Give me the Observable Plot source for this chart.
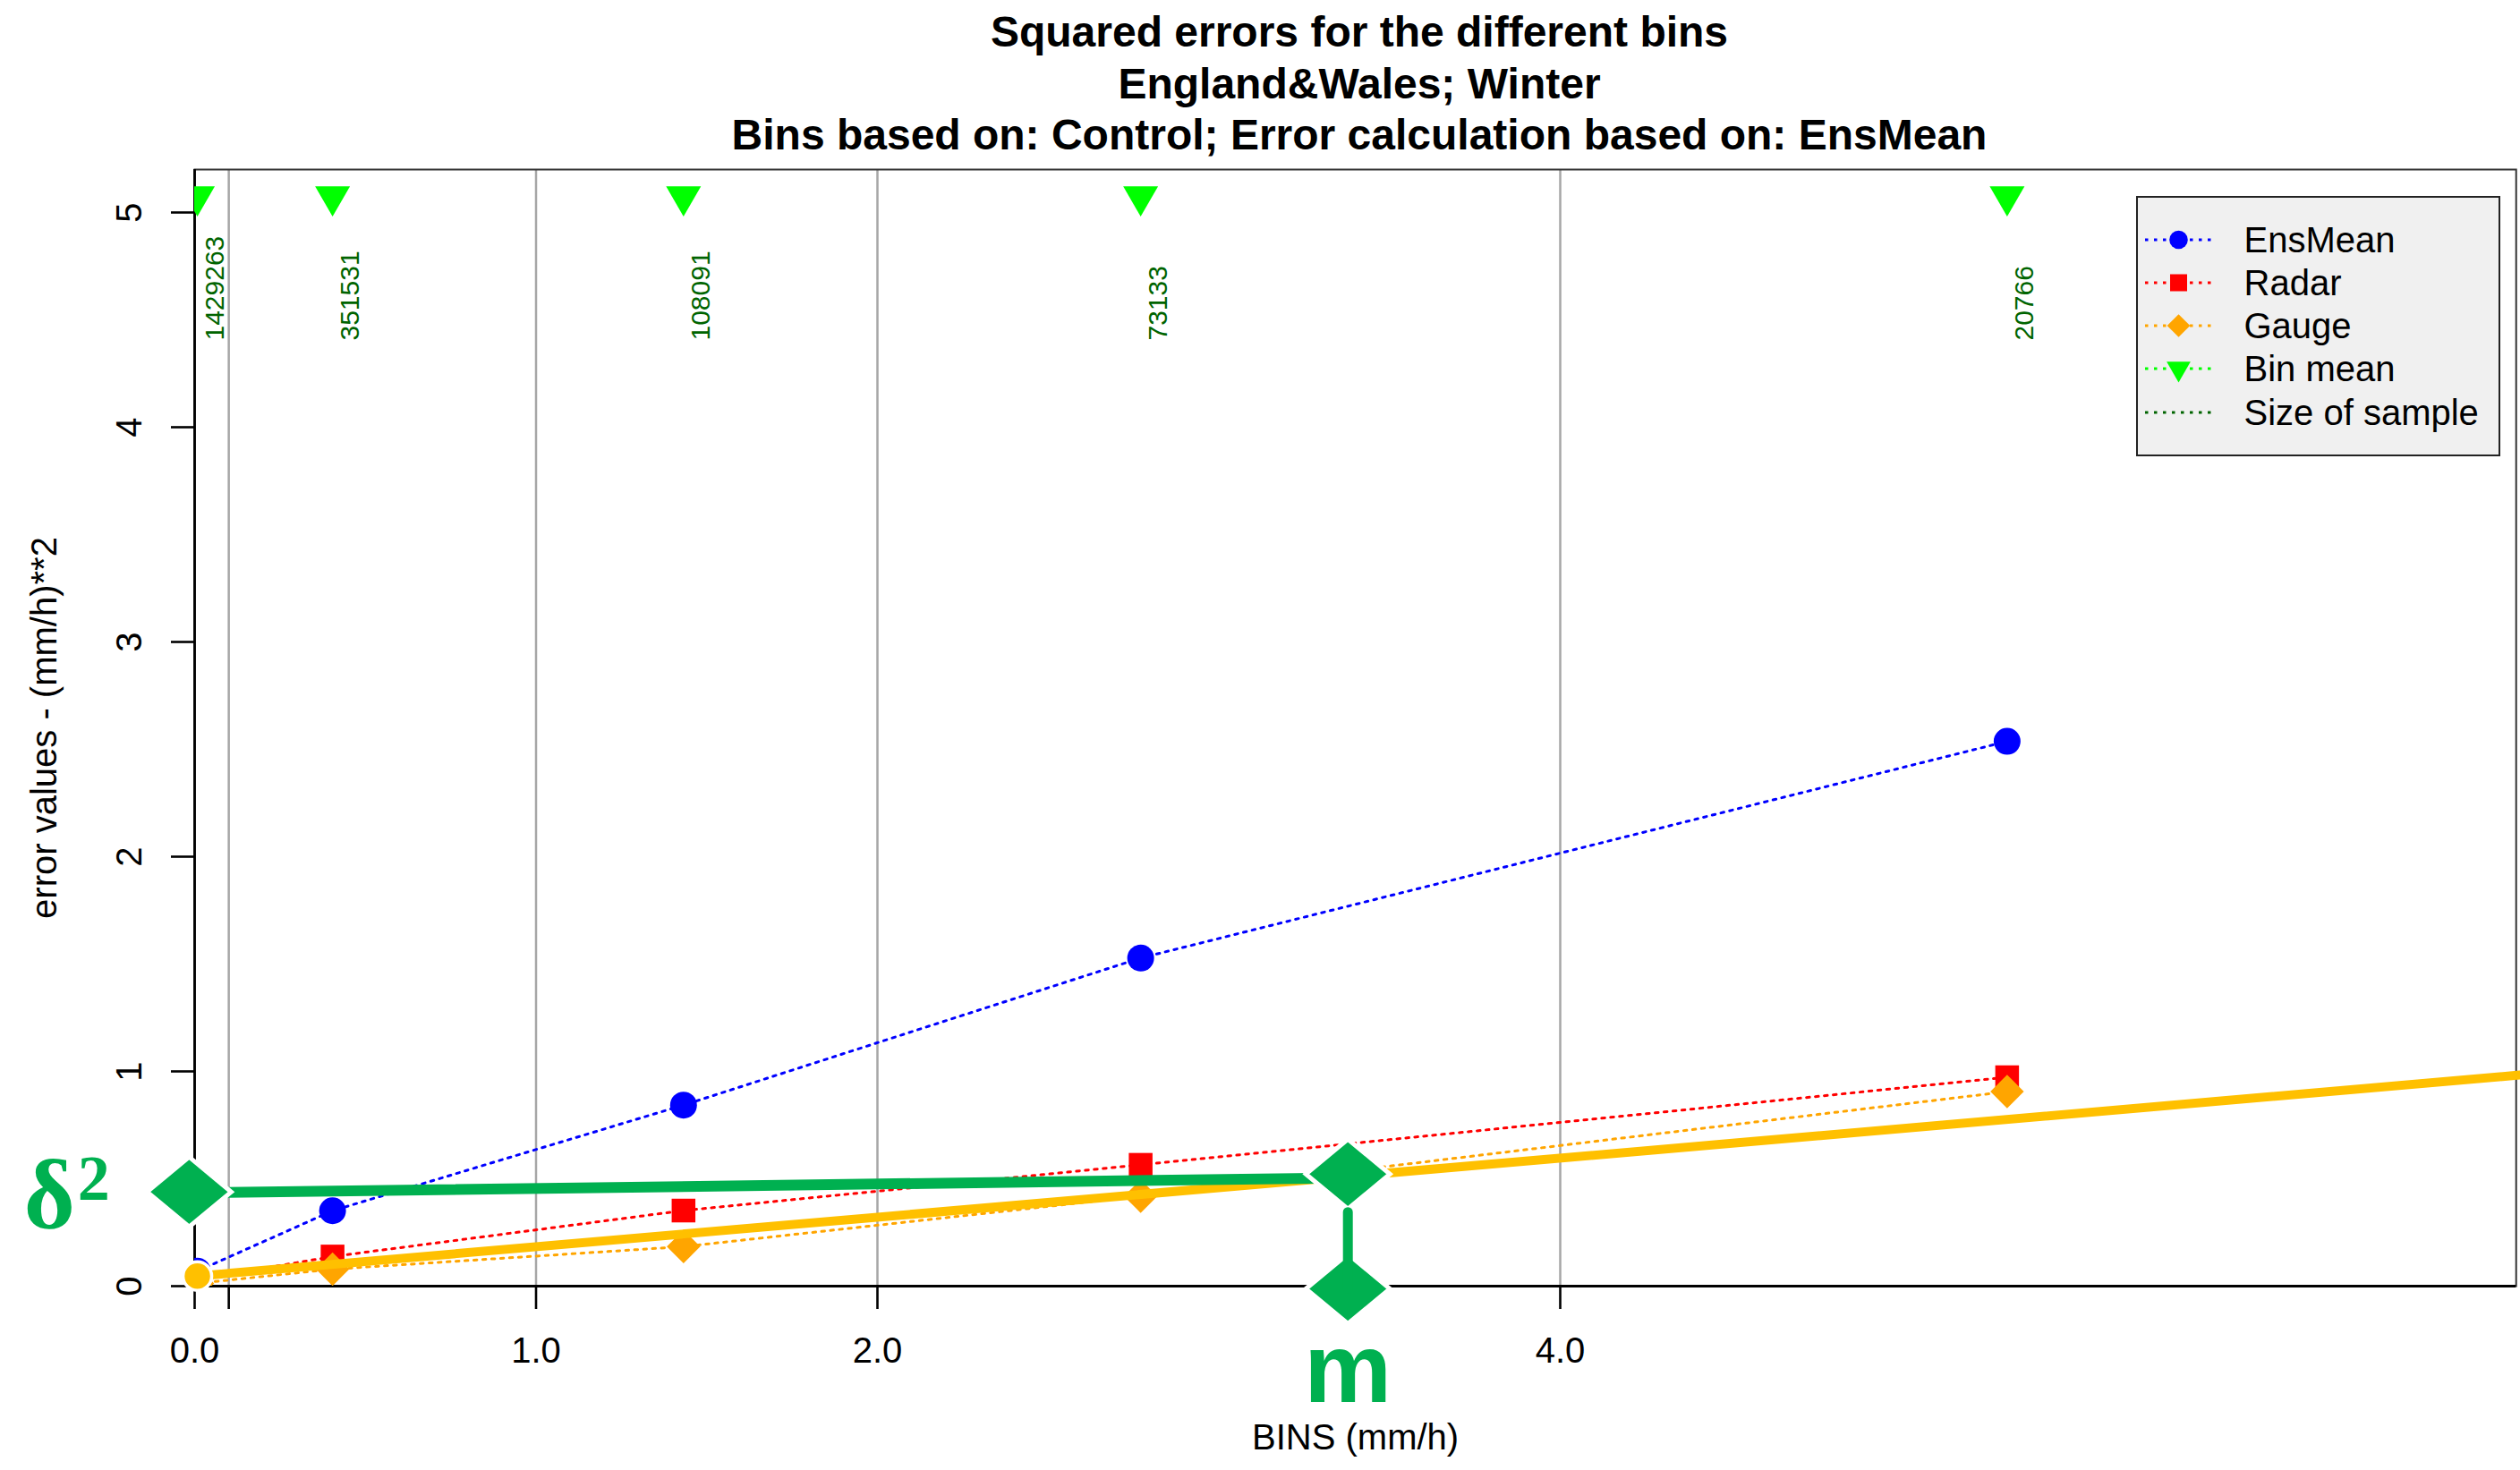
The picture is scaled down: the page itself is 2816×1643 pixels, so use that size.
<!DOCTYPE html>
<html>
<head>
<meta charset="utf-8">
<script src="https://cdn.jsdelivr.net/npm/d3@7"></script>
<script src="https://cdn.jsdelivr.net/npm/@observablehq/plot@0.6"></script>
<style>
html, body { margin: 0; padding: 0; background: #fff; }
#wrap { position: relative; width: 2816px; height: 1643px; overflow: hidden; font-family: "Liberation Sans", Arial, Helvetica, sans-serif; }
#title { position: absolute; left: 222px; width: 2594px; top: 7px; text-align: center; font-weight: bold; font-size: 48px; line-height: 57.5px; color: #000; }
#chart { position: absolute; left: 0; top: 0; }
#legend { position: absolute; left: 2387px; top: 219px; width: 407px; height: 291px; box-sizing: border-box; background: #f0f0f0; border: 2.5px solid #222; }
.lrow { position: absolute; left: 0; height: 48px; width: 100%; }
.lrow svg { position: absolute; left: 7.5px; top: 0; }
.lrow span { position: absolute; left: 118.5px; top: 0; line-height: 48px; font-size: 40px; color: #000; white-space: nowrap; }
g[aria-label="annotation-text"] text { filter: drop-shadow(3px 3px 2px rgba(0,0,0,0.35)); }
</style>
</head>
<body>
<div id="wrap">
  <div id="title">Squared errors for the different bins<br>England&amp;Wales; Winter<br>Bins based on: Control; Error calculation based on: EnsMean</div>
  <div id="chart"></div>
  <div id="legend"></div>
</div>
<script>
// ---------- data ----------
const binMean = [0.008, 0.404, 1.432, 2.771, 5.309];
const ensMean = [0.07, 0.351, 0.843, 1.528, 2.537];
const radar   = [0.03, 0.138, 0.352, 0.565, 0.973];
const gauge   = [0.013, 0.079, 0.184, 0.419, 0.906];
const sampleSize = ["1429263", "351531", "108091", "73133", "20766"];
const binMeanLevel = 5.075;      // y level of the bin-mean markers
const sampleLabelLevel = 4.404;  // y level where the sample-size labels start
const binBreaks = [0.1, 1, 2, 4];
const xTickValues = [0, 0.1, 1, 2, 4];
const xTickLabels = ["0.0", "", "1.0", "2.0", "4.0"];
const yTickValues = [0, 1, 2, 3, 4, 5];
const yTickLabels = ["0", "1", "2", "3", "4", "5"];
const seriesNames = ["EnsMean", "Radar", "Gauge"];
const seriesColors = ["#0000ff", "#ff0000", "#ffa500"];
const binMeanColor = "#00ff00";
const sampleColor = "#006400";
const xTitle = "BINS (mm/h)";
const yTitle = "error values - (mm/h)**2";
const legendLabels = ["EnsMean", "Radar", "Gauge", "Bin mean", "Size of sample"];
const legendColors = ["#0000ff", "#ff0000", "#ffa500", "#00ff00", "#006400"];
const legendShapes = ["circle", "square", "diamond", "triangle", "none"];

// annotation overlay (drawn on top of the chart)
const annGold = "#ffc000";
const annGreen = "#00b050";
const annGoldLine = [{x: 0.008, y: 0.047}, {x: 6.81, y: 0.983}];
const annGoldDot = [{x: 0.008, y: 0.047}];
const annGreenLine = [{x: -0.016, y: 0.434}, {x: 3.378, y: 0.504}];
const annConnector = [{x: 3.378, y: 0.345}, {x: 3.378, y: -0.0125}];
const annDiamonds = [{x: -0.016, y: 0.439}, {x: 3.378, y: 0.522}, {x: 3.378, y: -0.0125}];
const annDelta = [{x: -0.5, y: 0.27, text: "δ"}];
const annDeltaSup = [{x: -0.343, y: 0.404, text: "2"}];
const annM = [{x: 3.378, y: -0.54, text: "m"}];

// ---------- symbols ----------
const rOf = (size) => Math.sqrt(size / Math.PI);
const squareSym = {draw(c, size) { const r = rOf(size); c.moveTo(-r, -r); c.lineTo(r, -r); c.lineTo(r, r); c.lineTo(-r, r); c.closePath(); }};
const diamondSym = {draw(c, size) { const r = rOf(size); c.moveTo(0, -r); c.lineTo(r, 0); c.lineTo(0, r); c.lineTo(-r, 0); c.closePath(); }};
const triDownSym = {draw(c, size) { const R = rOf(size); const u = R * Math.sqrt(3) / 2; c.moveTo(0, R); c.lineTo(u, -R / 2); c.lineTo(-u, -R / 2); c.closePath(); }};
const annDiamondSym = {draw(c, size) { const r = rOf(size); const h = r * 0.83; c.moveTo(-r, 0); c.lineTo(0, -h); c.lineTo(r, 0); c.lineTo(0, h); c.closePath(); }};

const seriesValues = [ensMean, radar, gauge];
const seriesSymbols = ["circle", squareSym, diamondSym];
const seriesR = [15, 13.25, 18.7];
const rows = seriesNames.map((name, s) => binMean.map((b, i) => ({series: name, bin: b, value: seriesValues[s][i]})));
const bins = binMean.map((b, i) => ({bin: b, n: sampleSize[i]}));

const FONT = "Liberation Sans, Arial, Helvetica, sans-serif";
const SERIF = "Liberation Serif, Times New Roman, serif";
const dotted = "3.5,6.5";

const marks = [
  Plot.ruleX(binBreaks, {stroke: "#a6a6a6", strokeWidth: 2.5}),
  Plot.frame({stroke: "#333", strokeWidth: 2}),
  Plot.ruleY([0], {stroke: "#000", strokeWidth: 2.8}),
  Plot.ruleX([0], {stroke: "#000", strokeWidth: 2.8}),
  Plot.axisX(xTickValues, {tickSize: 26, tickFormat: () => "", strokeWidth: 2.6, stroke: "#000", label: null}),
  Plot.axisY(yTickValues, {tickSize: 26, tickFormat: () => "", strokeWidth: 2.6, stroke: "#000", label: null}),
  Plot.text(xTickValues, {x: d => d, frameAnchor: "bottom", dy: 73, text: (d, i) => xTickLabels[i], fontSize: 40, fontFamily: FONT, lineAnchor: "middle", textAnchor: "middle", fill: "#000"}),
  Plot.text(yTickValues, {y: d => d, frameAnchor: "left", dx: -72, rotate: -90, text: (d, i) => yTickLabels[i], fontSize: 40, fontFamily: FONT, lineAnchor: "middle", textAnchor: "middle", fill: "#000"}),
  Plot.text([xTitle], {frameAnchor: "bottom", dy: 170, text: d => d, fontSize: 40, fontFamily: FONT, lineAnchor: "middle", fill: "#000"}),
  Plot.text([yTitle], {frameAnchor: "left", dx: -167, rotate: -90, text: d => d, fontSize: 40, fontFamily: FONT, lineAnchor: "middle", textAnchor: "middle", fill: "#000"}),
];

rows.forEach((data, s) => {
  marks.push(Plot.line(data, {x: "bin", y: "value", stroke: seriesColors[s], strokeWidth: 3, strokeDasharray: dotted, clip: true}));
  marks.push(Plot.dot(data, {x: "bin", y: "value", fill: seriesColors[s], stroke: "none", r: seriesR[s], symbol: seriesSymbols[s], clip: true}));
});

marks.push(
  Plot.dot(bins, {x: "bin", y: () => binMeanLevel, fill: binMeanColor, stroke: "none", r: 22.5, symbol: triDownSym, clip: true}),
  Plot.text(bins, {x: "bin", y: () => sampleLabelLevel, text: "n", rotate: -90, textAnchor: "start", lineAnchor: "middle", dx: 20, fontSize: 30, fontFamily: FONT, fill: sampleColor})
);

// annotation overlay
marks.push(
  Plot.line(annGoldLine, {x: "x", y: "y", stroke: annGold, strokeWidth: 10}),
  Plot.dot(annGoldDot, {x: "x", y: "y", r: 16, fill: annGold, stroke: "#fff", strokeWidth: 3.5}),
  Plot.line(annGreenLine, {x: "x", y: "y", stroke: annGreen, strokeWidth: 12}),
  Plot.dot(annDiamonds, {x: "x", y: "y", r: 47, symbol: annDiamondSym, fill: annGreen, stroke: "#fff", strokeWidth: 5}),
  Plot.line(annConnector, {x: "x", y: "y", stroke: annGreen, strokeWidth: 11}),
  Plot.text(annDelta, {x: "x", y: "y", text: "text", textAnchor: "start", lineAnchor: "bottom", fontSize: 110, fontWeight: "bold", fontFamily: SERIF, fill: annGreen, ariaLabel: "annotation-text"}),
  Plot.text(annDeltaSup, {x: "x", y: "y", text: "text", textAnchor: "start", lineAnchor: "bottom", fontSize: 72, fontWeight: "bold", fontFamily: SERIF, fill: annGreen, ariaLabel: "annotation-text"}),
  Plot.text(annM, {x: "x", y: "y", text: "text", textAnchor: "middle", lineAnchor: "bottom", fontSize: 110, fontWeight: "bold", fontFamily: FONT, fill: annGreen, ariaLabel: "annotation-text"})
);

const chart = Plot.plot({
  width: 2816,
  height: 1643,
  marginTop: 189,
  marginRight: 4.8,
  marginBottom: 206,
  marginLeft: 217,
  x: {domain: [0, 6.8], label: null},
  y: {domain: [0, 5.2], label: null},
  style: {fontFamily: FONT, fontSize: "40px", background: "transparent", overflow: "visible"},
  marks
});
document.getElementById("chart").appendChild(chart);

// ---------- legend ----------
const legend = d3.select("#legend");
legendLabels.forEach((label, i) => {
  const row = legend.append("div").attr("class", "lrow").style("top", (22.8 + i * 48.2) + "px");
  const svg = row.append("svg").attr("width", 76).attr("height", 48);
  const col = legendColors[i];
  svg.append("line").attr("x1", 0).attr("x2", 75).attr("y1", 24).attr("y2", 24)
    .attr("stroke", col).attr("stroke-width", 3).attr("stroke-dasharray", dotted);
  const cx = 37.5, cy = 24;
  const shape = legendShapes[i];
  if (shape === "circle") svg.append("circle").attr("cx", cx).attr("cy", cy).attr("r", 10.3).attr("fill", col);
  else if (shape === "square") svg.append("rect").attr("x", cx - 9.5).attr("y", cy - 9.5).attr("width", 19).attr("height", 19).attr("fill", col);
  else if (shape === "diamond") svg.append("path").attr("d", `M${cx},${cy - 12.8}L${cx + 12.8},${cy}L${cx},${cy + 12.8}L${cx - 12.8},${cy}Z`).attr("fill", col);
  else if (shape === "triangle") svg.append("path").attr("d", `M${cx},${cy + 15.4}L${cx + 13.35},${cy - 7.7}L${cx - 13.35},${cy - 7.7}Z`).attr("fill", col);
  row.append("span").text(label);
});
</script>
</body>
</html>
